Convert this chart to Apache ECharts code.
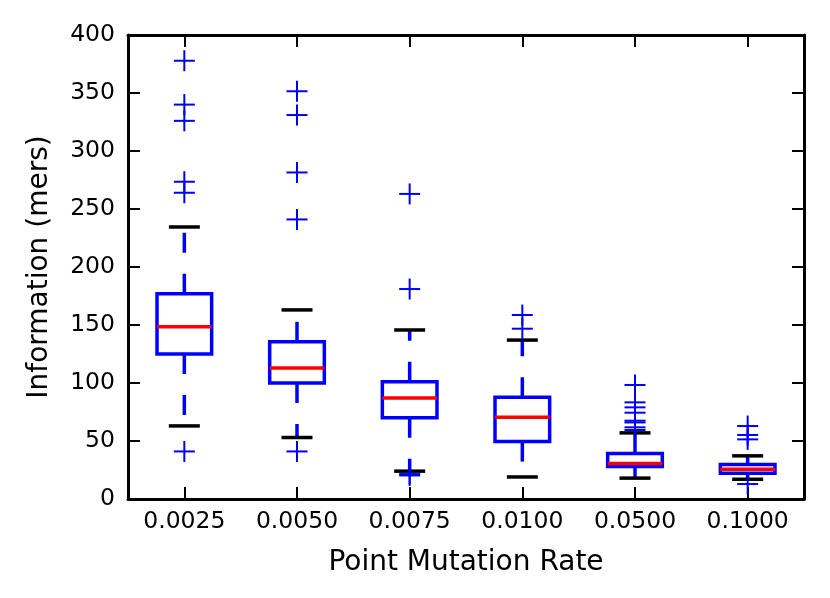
<!DOCTYPE html>
<html>
<head>
<meta charset="utf-8">
<script src="https://cdn.jsdelivr.net/npm/echarts@6/dist/echarts.min.js"></script>
<style>html,body{margin:0;padding:0;background:#fff}#c{width:830px;height:598px}</style>
</head>
<body>
<div id="c"></div>
<script>
var categories = ['0.0025', '0.0050', '0.0075', '0.0100', '0.0500', '0.1000'];
var whiskerLow = [63, 53, 24, 19, 18, 17];
var q1 = [125, 100, 70, 49.5, 28, 22.3];
var median = [148.5, 113, 87, 70.5, 30.5, 25.7];
var q3 = [177, 135.5, 101, 87.7, 39.2, 29.7];
var whiskerHigh = [234.5, 163, 145.7, 137, 57, 37.2];
var outliers = [
  [377.8, 340, 326, 273.5, 264, 41],
  [351.5, 331, 281.5, 241, 41],
  [263, 181, 21.5, 20.3],
  [158.6, 146.8],
  [98.3, 83.3, 79, 74.4, 67.5, 66, 61.8, 59.5],
  [62.9, 55.2, 51.4, 12.9]
];
var yTicks = [0, 50, 100, 150, 200, 250, 300, 350, 400];

var boxData = categories.map(function (c, i) {
  return [i, whiskerLow[i], q1[i], median[i], q3[i], whiskerHigh[i]];
});
var flierData = [];
outliers.forEach(function (arr, i) {
  arr.forEach(function (v) { flierData.push([i, v]); });
});

var BLUE = '#0000ff', RED = '#ff0000', BLACK = '#000000';
var LW = 3.5;

function renderBox(params, api) {
  var idx = api.value(0);
  var band = api.size([1, 0])[0];
  var pLow = api.coord([idx, api.value(1)]);
  var pQ1 = api.coord([idx, api.value(2)]);
  var pMed = api.coord([idx, api.value(3)]);
  var pQ3 = api.coord([idx, api.value(4)]);
  var pHigh = api.coord([idx, api.value(5)]);
  var x = pQ1[0];
  var bw = band * 0.485;
  var cw = band * 0.275;
  var dash = [20, 21];
  return {
    type: 'group',
    children: [
      { type: 'line', shape: { x1: x, y1: pQ1[1], x2: x, y2: pLow[1] },
        style: { stroke: BLUE, lineWidth: LW, lineDash: dash, lineCap: 'butt' } },
      { type: 'line', shape: { x1: x, y1: pQ3[1], x2: x, y2: pHigh[1] },
        style: { stroke: BLUE, lineWidth: LW, lineDash: dash, lineCap: 'butt' } },
      { type: 'line', shape: { x1: x - cw / 2, y1: pLow[1], x2: x + cw / 2, y2: pLow[1] },
        style: { stroke: BLACK, lineWidth: LW } },
      { type: 'line', shape: { x1: x - cw / 2, y1: pHigh[1], x2: x + cw / 2, y2: pHigh[1] },
        style: { stroke: BLACK, lineWidth: LW } },
      { type: 'rect', shape: { x: x - bw / 2, y: pQ3[1], width: bw, height: pQ1[1] - pQ3[1] },
        style: { fill: null, stroke: BLUE, lineWidth: LW } },
      { type: 'line', shape: { x1: x - bw / 2, y1: pMed[1], x2: x + bw / 2, y2: pMed[1] },
        style: { stroke: RED, lineWidth: LW } }
    ]
  };
}

function renderFlier(params, api) {
  var p = api.coord([api.value(0), api.value(1)]);
  var s = 10.5;
  return {
    type: 'group',
    children: [
      { type: 'line', shape: { x1: p[0] - s, y1: p[1], x2: p[0] + s, y2: p[1] },
        style: { stroke: BLUE, lineWidth: 2 } },
      { type: 'line', shape: { x1: p[0], y1: p[1] - s, x2: p[0], y2: p[1] + s },
        style: { stroke: BLUE, lineWidth: 2 } }
    ]
  };
}

var font = 'DejaVu Sans';
var tickStyle = { show: true, inside: true, length: 12, lineStyle: { color: BLACK, width: 2 } };
var lineStyleAxis = { show: true, onZero: false, lineStyle: { color: BLACK, width: 3 } };

var chart = echarts.init(document.getElementById('c'), null, { renderer: 'canvas' });
chart.setOption({
  animation: false,
  backgroundColor: '#fff',
  grid: { left: 128, right: 26, top: 35, bottom: 99, containLabel: false },
  xAxis: [
    {
      type: 'category', data: categories, position: 'bottom',
      boundaryGap: true,
      axisLine: lineStyleAxis,
      axisTick: Object.assign({ alignWithLabel: true }, tickStyle),
      axisLabel: { color: BLACK, fontFamily: font, fontSize: 23.5, margin: 11 },
      splitLine: { show: false },
      name: 'Point Mutation Rate', nameLocation: 'middle', nameGap: 50,
      nameTextStyle: { color: BLACK, fontFamily: font, fontSize: 28 }
    },
    {
      type: 'category', data: categories, position: 'top',
      boundaryGap: true,
      axisLine: lineStyleAxis,
      axisTick: Object.assign({ alignWithLabel: true }, tickStyle),
      axisLabel: { show: false },
      splitLine: { show: false }
    }
  ],
  yAxis: [
    {
      type: 'value', min: yTicks[0], max: yTicks[yTicks.length - 1], interval: 50,
      position: 'left',
      axisLine: lineStyleAxis,
      axisTick: tickStyle,
      axisLabel: { color: BLACK, fontFamily: font, fontSize: 23.5, margin: 13 },
      splitLine: { show: false },
      name: 'Information (mers)', nameLocation: 'middle', nameGap: 74,
      nameTextStyle: { color: BLACK, fontFamily: font, fontSize: 28 }
    },
    {
      type: 'value', min: yTicks[0], max: yTicks[yTicks.length - 1], interval: 50,
      position: 'right',
      axisLine: lineStyleAxis,
      axisTick: tickStyle,
      axisLabel: { show: false },
      splitLine: { show: false }
    }
  ],
  series: [
    {
      type: 'custom', name: 'box', xAxisIndex: 0, yAxisIndex: 0,
      renderItem: renderBox, data: boxData, clip: false,
      encode: { x: 0, y: [1, 2, 3, 4, 5] }, z: 2
    },
    {
      type: 'custom', name: 'fliers', xAxisIndex: 0, yAxisIndex: 0,
      renderItem: renderFlier, data: flierData, clip: false,
      encode: { x: 0, y: 1 }, z: 3
    }
  ]
});
</script>
</body>
</html>
